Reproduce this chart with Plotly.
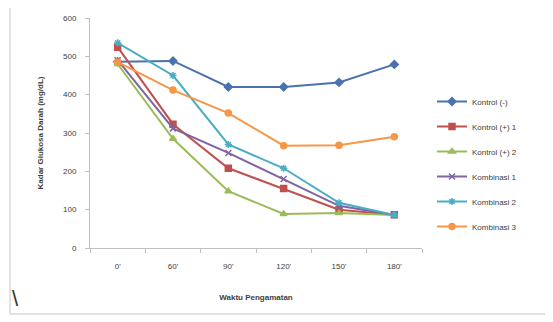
import plotly.graph_objects as go

categories = ["0'", "60'", "90'", "120'", "150'", "180'"]
kontrol_neg = [486, 488, 420, 420, 432, 479]
kontrol_pos1 = [524, 323, 208, 155, 100, 87]
kontrol_pos2 = [480, 285, 148, 89, 91, 86]
kombinasi1 = [490, 312, 248, 180, 110, 86]
kombinasi2 = [535, 450, 270, 208, 118, 86]
kombinasi3 = [485, 412, 352, 267, 268, 290]

series = [
    ("Kontrol (-)", kontrol_neg, "#4A72B0", "diamond"),
    ("Kontrol (+) 1", kontrol_pos1, "#C0504D", "square"),
    ("Kontrol (+) 2", kontrol_pos2, "#9BBB59", "triangle-up"),
    ("Kombinasi 1", kombinasi1, "#8064A2", "x-thin"),
    ("Kombinasi 2", kombinasi2, "#4BACC6", "asterisk"),
    ("Kombinasi 3", kombinasi3, "#F79646", "circle"),
]

fig = go.Figure()
for i, (name, vals, color, sym) in enumerate(series):
    fig.add_trace(go.Scatter(
        x=categories, y=vals, name=name, mode="lines+markers",
        legendgroup=f"g{i}",
        line=dict(color=color, width=2),
        marker=dict(symbol=sym, size=6, color=color,
                    line=dict(color=color, width=1.5)),
    ))

# page body has an 8px default margin, so work in coordinates shifted by 8
OFF = 8
L, R, T, B = 90 - OFF, 422 - OFF, 18 - OFF, 248 - OFF
W, H = 553 - OFF, 322 - OFF

def px(x):
    return (x - OFF - L) / (R - L)

def py(y):
    return (B - (y - OFF)) / (B - T)

fig.update_layout(
    width=W, height=H,
    margin=dict(l=L, r=W - R, t=T, b=H - B, autoexpand=False),
    paper_bgcolor="white", plot_bgcolor="white",
    font=dict(family="Liberation Sans, Arial", size=8, color="#404040"),
    showlegend=True,
    legend=dict(x=px(432), y=py(87), xanchor="left", yanchor="top",
                font=dict(size=8, color="#404040"), tracegroupgap=6,
                itemwidth=30, bgcolor="rgba(0,0,0,0)"),
    xaxis=dict(
        type="category", range=[-0.5, 5.5], automargin=False,
        showline=True, linecolor="#BFBFBF", linewidth=1,
        ticks="outside", tickson="boundaries", ticklen=4, tickcolor="#BFBFBF",
        ticklabelstandoff=10,
        showgrid=False, zeroline=False,
        title=dict(text="<b>Waktu Pengamatan</b>", font=dict(size=8, color="#404040"), standoff=24),
        tickfont=dict(size=8, color="#404040"),
    ),
    yaxis=dict(
        range=[0, 600], dtick=100, automargin=False,
        showline=True, linecolor="#BFBFBF", linewidth=1,
        ticks="outside", ticklen=4, tickcolor="#BFBFBF",
        ticklabelstandoff=7,
        showgrid=False, zeroline=False,
        title=dict(text="<b>Kadar Glukosa Darah (mg/dL)</b>", font=dict(size=8, color="#404040"), standoff=18),
        tickfont=dict(size=8, color="#404040"),
    ),
    shapes=[dict(
        type="rect", xref="paper", yref="paper",
        x0=px(10), x1=px(548), y0=py(314), y1=py(5),
        line=dict(color="#D9D9D9", width=1.5), fillcolor="rgba(0,0,0,0)",
        layer="below",
    )],
    annotations=[dict(
        text="\\", xref="paper", yref="paper", x=px(15), y=py(298),
        showarrow=False, font=dict(size=22, color="#333333", family="Liberation Sans"),
        xanchor="center", yanchor="middle",
    )],
)

fig.write_html("out.html")
